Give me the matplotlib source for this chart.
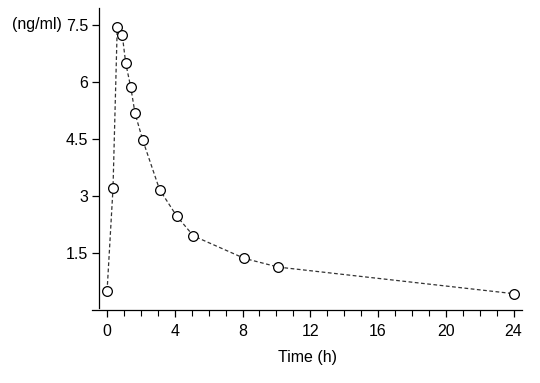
import numpy as np
import matplotlib.pyplot as plt
from matplotlib.ticker import MultipleLocator

plt.rcParams['font.family'] = ['Liberation Sans', 'DejaVu Sans']

# concentration-time data
time_h = [0, 0.35, 0.6, 0.9, 1.1, 1.4, 1.65, 2.1, 3.1, 4.1, 5.1, 8.1, 10.1, 24]
conc = [0.5, 3.2, 7.45, 7.23, 6.5, 5.86, 5.18, 4.48, 3.17, 2.48, 1.95, 1.36, 1.13, 0.43]
xticks = [0, 4, 8, 12, 16, 20, 24]
yticks = [1.5, 3, 4.5, 6, 7.5]
yticklabels = ['1.5', '3', '4.5', '6', '7.5']

fig = plt.figure(figsize=(5.4, 3.83), dpi=100)
ax = fig.add_axes([92 / 540, 73 / 383, 430 / 540, 302 / 383])

ax.plot(time_h, conc, linestyle=(0, (3, 2)), color='#333333', lw=0.9,
        marker='o', ms=7, mfc='white', mec='black', mew=0.9)

ax.set_xlim(-0.89, 24.5)
ax.set_ylim(0, 7.95)

ax.spines['top'].set_visible(False)
ax.spines['right'].set_visible(False)
ax.spines['left'].set_position(('data', -0.47))
ax.spines['left'].set_bounds(0.05, 7.95)
for s in ('left', 'bottom'):
    ax.spines[s].set_linewidth(0.9)

ax.set_xticks(xticks)
ax.xaxis.set_minor_locator(MultipleLocator(1))
ax.set_yticks(yticks)
ax.set_yticklabels(yticklabels)
ax.tick_params(axis='both', which='major', labelsize=11.5, length=5, width=0.9, pad=3)
ax.tick_params(axis='x', which='major', pad=5)
ax.tick_params(axis='x', which='minor', length=4, width=0.8)

ax.set_xlabel('Time (h)', fontsize=11.5, labelpad=8)
fig.text(12 / 540, 1 - 25 / 383, '(ng/ml)', fontsize=11.5, va='center', ha='left')

fig.savefig('out.png', dpi=100)
